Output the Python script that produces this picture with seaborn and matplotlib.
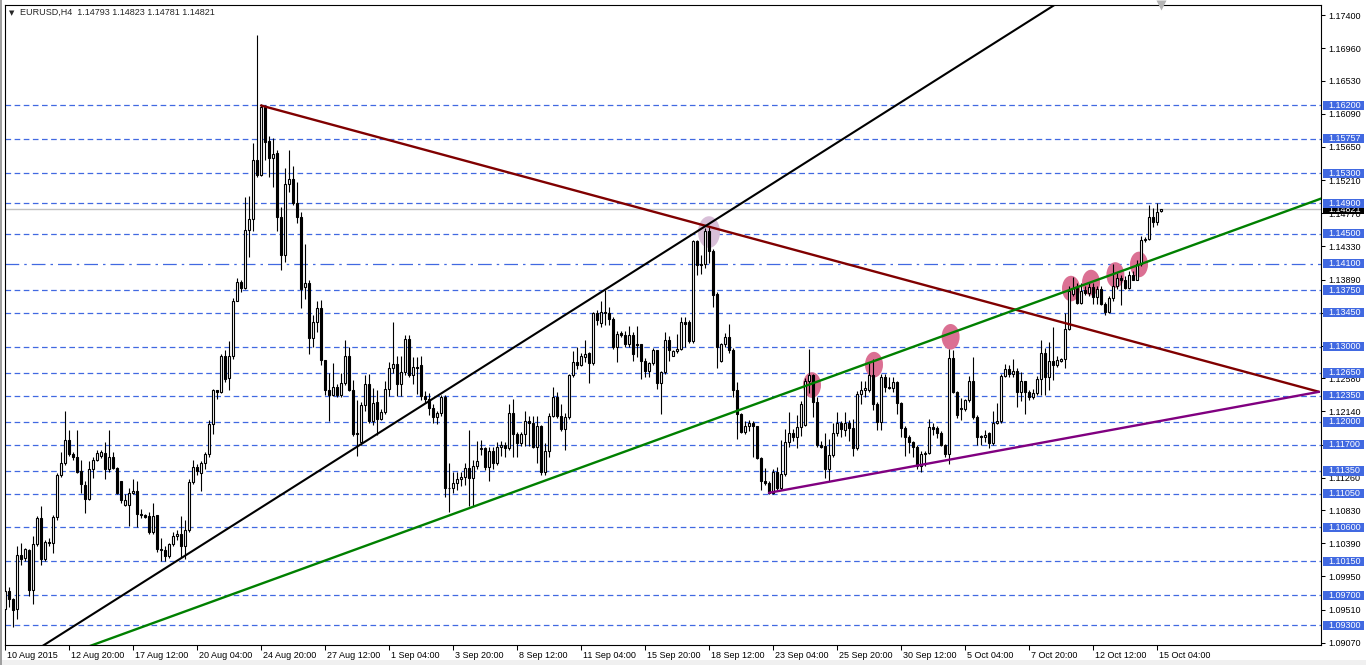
import numpy as np
import matplotlib
matplotlib.use("Agg")
import matplotlib.pyplot as plt
import matplotlib.transforms as mtransforms
from matplotlib.patches import Ellipse, Rectangle
import seaborn as sns

# ---- EURUSD H4 candles ----
opens = [
    1.0952, 1.0975, 1.0965, 1.0952, 1.1023, 1.1019, 1.1030, 1.0977, 1.1038, 1.1073,
    1.1018, 1.1041, 1.1039, 1.1074, 1.1129, 1.1145, 1.1176, 1.1158, 1.1154, 1.1135,
    1.1116, 1.1098, 1.1138, 1.1150, 1.1155, 1.1159, 1.1138, 1.1154, 1.1139, 1.1121,
    1.1090, 1.1090, 1.1106, 1.1109, 1.1078, 1.1076, 1.1075, 1.1054, 1.1076, 1.1031,
    1.1030, 1.1022, 1.1038, 1.1048, 1.1051, 1.1036, 1.1057, 1.1120, 1.1140, 1.1132,
    1.1146, 1.1157, 1.1197, 1.1242, 1.1240, 1.1287, 1.1258, 1.1288, 1.1361, 1.1386,
    1.1378, 1.1455, 1.1470, 1.1548, 1.1528, 1.1618, 1.1573, 1.1550, 1.1557, 1.1472,
    1.1421, 1.1516, 1.1522, 1.1491, 1.1472, 1.1379, 1.1385, 1.1312, 1.1333, 1.1351,
    1.1282, 1.1242, 1.1236, 1.1246, 1.1236, 1.1252, 1.1288, 1.1243, 1.1184, 1.1173,
    1.1223, 1.1251, 1.1201, 1.1227, 1.1204, 1.1213, 1.1244, 1.1271, 1.1277, 1.1250,
    1.1266, 1.1310, 1.1262, 1.1273, 1.1275, 1.1234, 1.1230, 1.1219, 1.1206, 1.1212,
    1.1233, 1.1113, 1.1112, 1.1119, 1.1124, 1.1127, 1.1139, 1.1126, 1.1142, 1.1164,
    1.1165, 1.1140, 1.1162, 1.1146, 1.1167, 1.1169, 1.1165, 1.1212, 1.1184, 1.1172,
    1.1184, 1.1201, 1.1199, 1.1167, 1.1194, 1.1133, 1.1161, 1.1208, 1.1233, 1.1208,
    1.1191, 1.1206, 1.1262, 1.1280, 1.1276, 1.1286, 1.1291, 1.1278, 1.1344, 1.1331,
    1.1346, 1.1344, 1.1337, 1.1299, 1.1318, 1.1316, 1.1303, 1.1316, 1.1303, 1.1303,
    1.1281, 1.1268, 1.1278, 1.1295, 1.1252, 1.1266, 1.1309, 1.1288, 1.1294, 1.1297,
    1.1333, 1.1332, 1.1307, 1.1440, 1.1409, 1.1409, 1.1453, 1.1427, 1.1370, 1.1281,
    1.1303, 1.1313, 1.1295, 1.1243, 1.1210, 1.1187, 1.1194, 1.1198, 1.1194, 1.1152,
    1.1122, 1.1119, 1.1106, 1.1134, 1.1112, 1.1131, 1.1174, 1.1186, 1.1180, 1.1193,
    1.1196, 1.1255, 1.1262, 1.1226, 1.1169, 1.1168, 1.1138, 1.1156, 1.1186, 1.1199,
    1.1189, 1.1198, 1.1192, 1.1166, 1.1237, 1.1243, 1.1242, 1.1262, 1.1224, 1.1200,
    1.1259, 1.1247, 1.1245, 1.1253, 1.1225, 1.1192, 1.1180, 1.1173, 1.1167, 1.1142,
    1.1157, 1.1159, 1.1193, 1.1192, 1.1185, 1.1170, 1.1157, 1.1285, 1.1240, 1.1219,
    1.1217, 1.1229, 1.1255, 1.1206, 1.1181, 1.1180, 1.1185, 1.1172, 1.1199, 1.1201,
    1.1261, 1.1270, 1.1264, 1.1267, 1.1240, 1.1255, 1.1240, 1.1233, 1.1238, 1.1257,
    1.1292, 1.1259, 1.1281, 1.1275, 1.1281, 1.1283, 1.1323, 1.1370, 1.1378, 1.1358,
    1.1375, 1.1371, 1.1379, 1.1366, 1.1377, 1.1357, 1.1346, 1.1365, 1.1380, 1.1391,
    1.1388, 1.1378, 1.1395, 1.1389, 1.1409, 1.1441, 1.1443, 1.1472, 1.1466, 1.14793,
]
highs = [
    1.0977, 1.0981, 1.0967, 1.1035, 1.1039, 1.1033, 1.1031, 1.1049, 1.1075, 1.1088,
    1.1044, 1.1046, 1.1076, 1.1132, 1.1160, 1.1214, 1.1189, 1.1160, 1.1189, 1.1149,
    1.1122, 1.1148, 1.1153, 1.1163, 1.1163, 1.1173, 1.1189, 1.1160, 1.1140, 1.1121,
    1.1104, 1.1113, 1.1124, 1.1122, 1.1084, 1.1078, 1.1080, 1.1093, 1.1077, 1.1046,
    1.1036, 1.1040, 1.1054, 1.1057, 1.1075, 1.1070, 1.1124, 1.1149, 1.1144, 1.1148,
    1.1160, 1.1202, 1.1244, 1.1243, 1.1290, 1.1295, 1.1308, 1.1365, 1.1391, 1.1388,
    1.1499, 1.1500, 1.1570, 1.1714, 1.1622, 1.1620, 1.1580, 1.1577, 1.1561, 1.1485,
    1.1537, 1.1561, 1.1540, 1.1518, 1.1479, 1.1436, 1.1389, 1.1342, 1.1360, 1.1362,
    1.1282, 1.1265, 1.1278, 1.1251, 1.1265, 1.1309, 1.1300, 1.1256, 1.1229, 1.1227,
    1.1262, 1.1263, 1.1245, 1.1243, 1.1217, 1.1254, 1.1280, 1.1332, 1.1287, 1.1287,
    1.1316, 1.1315, 1.1286, 1.1286, 1.1288, 1.1241, 1.1238, 1.1224, 1.1215, 1.1236,
    1.1236, 1.1145, 1.1134, 1.1134, 1.1134, 1.1145, 1.1189, 1.1149, 1.1175, 1.1176,
    1.1167, 1.1167, 1.1167, 1.1174, 1.1175, 1.1174, 1.1224, 1.1230, 1.1187, 1.1187,
    1.1214, 1.1208, 1.1208, 1.1208, 1.1196, 1.1172, 1.1212, 1.1247, 1.1240, 1.1224,
    1.1212, 1.1264, 1.1294, 1.1300, 1.1291, 1.1309, 1.1293, 1.1346, 1.1349, 1.1360,
    1.1375, 1.1353, 1.1339, 1.1321, 1.1321, 1.1321, 1.1328, 1.1320, 1.1328, 1.1304,
    1.1285, 1.1279, 1.1298, 1.1296, 1.1268, 1.1320, 1.1314, 1.1296, 1.1317, 1.1339,
    1.1339, 1.1335, 1.1442, 1.1442, 1.1422, 1.1457, 1.1460, 1.1429, 1.1372, 1.1305,
    1.1318, 1.1330, 1.1298, 1.1253, 1.1212, 1.1201, 1.1203, 1.1201, 1.1195, 1.1153,
    1.1139, 1.1121, 1.1138, 1.1140, 1.1176, 1.1190, 1.1213, 1.1190, 1.1209, 1.1228,
    1.1258, 1.1297, 1.1264, 1.1233, 1.1175, 1.1186, 1.1178, 1.1198, 1.1213, 1.1201,
    1.1213, 1.1202, 1.1204, 1.1241, 1.1255, 1.1255, 1.1278, 1.1283, 1.1226, 1.1264,
    1.1263, 1.1259, 1.1260, 1.1255, 1.1227, 1.1194, 1.1183, 1.1175, 1.1170, 1.1162,
    1.1162, 1.1204, 1.1198, 1.1195, 1.1188, 1.1171, 1.1297, 1.1295, 1.1241, 1.1232,
    1.1231, 1.1261, 1.1286, 1.1209, 1.1183, 1.1189, 1.1187, 1.1214, 1.1225, 1.1264,
    1.1277, 1.1276, 1.1283, 1.1271, 1.1266, 1.1255, 1.1242, 1.1244, 1.1261, 1.1309,
    1.1298, 1.1306, 1.1326, 1.1288, 1.1285, 1.1345, 1.1381, 1.1393, 1.1385, 1.1384,
    1.1381, 1.1385, 1.1385, 1.1380, 1.1380, 1.1359, 1.1367, 1.1409, 1.1398, 1.1395,
    1.1394, 1.1400, 1.1400, 1.1415, 1.1447, 1.1446, 1.1488, 1.1484, 1.1490, 1.14823,
]
lows = [
    1.0951, 1.0955, 1.0928, 1.0938, 1.1010, 1.1016, 1.0969, 1.0959, 1.1035, 1.1010,
    1.1015, 1.1036, 1.1026, 1.1070, 1.1127, 1.1143, 1.1155, 1.1150, 1.1132, 1.1106,
    1.1079, 1.1096, 1.1126, 1.1148, 1.1152, 1.1124, 1.1133, 1.1138, 1.1104, 1.1093,
    1.1089, 1.1062, 1.1104, 1.1060, 1.1072, 1.1072, 1.1051, 1.1051, 1.1028, 1.1015,
    1.1015, 1.1020, 1.1036, 1.1044, 1.1021, 1.1018, 1.1054, 1.1117, 1.1130, 1.1108,
    1.1137, 1.1153, 1.1184, 1.1231, 1.1238, 1.1253, 1.1243, 1.1284, 1.1360, 1.1373,
    1.1376, 1.1419, 1.1453, 1.1525, 1.1526, 1.1548, 1.1525, 1.1512, 1.1453, 1.1402,
    1.1412, 1.1505, 1.1488, 1.1464, 1.1351, 1.1363, 1.1290, 1.1300, 1.1320, 1.1276,
    1.1236, 1.1201, 1.1234, 1.1233, 1.1233, 1.1249, 1.1241, 1.1182, 1.1155, 1.1170,
    1.1214, 1.1199, 1.1196, 1.1183, 1.1202, 1.1211, 1.1235, 1.1265, 1.1235, 1.1235,
    1.1262, 1.1260, 1.1250, 1.1237, 1.1229, 1.1225, 1.1209, 1.1198, 1.1197, 1.1208,
    1.1101, 1.1081, 1.1106, 1.1110, 1.1115, 1.1116, 1.1089, 1.1089, 1.1138, 1.1156,
    1.1136, 1.1121, 1.1138, 1.1143, 1.1155, 1.1154, 1.1163, 1.1153, 1.1153, 1.1168,
    1.1168, 1.1168, 1.1165, 1.1146, 1.1130, 1.1130, 1.1154, 1.1207, 1.1205, 1.1188,
    1.1163, 1.1204, 1.1260, 1.1270, 1.1274, 1.1280, 1.1252, 1.1276, 1.1329, 1.1326,
    1.1329, 1.1329, 1.1297, 1.1279, 1.1313, 1.1299, 1.1299, 1.1281, 1.1286, 1.1257,
    1.1260, 1.1259, 1.1276, 1.1244, 1.1210, 1.1264, 1.1281, 1.1287, 1.1292, 1.1295,
    1.1300, 1.1305, 1.1305, 1.1395, 1.1397, 1.1404, 1.1411, 1.1353, 1.1271, 1.1280,
    1.1299, 1.1292, 1.1233, 1.1178, 1.1186, 1.1184, 1.1188, 1.1153, 1.1151, 1.1110,
    1.1116, 1.1105, 1.1105, 1.1110, 1.1110, 1.1128, 1.1167, 1.1175, 1.1165, 1.1181,
    1.1194, 1.1238, 1.1207, 1.1167, 1.1166, 1.1126, 1.1121, 1.1153, 1.1181, 1.1180,
    1.1181, 1.1175, 1.1155, 1.1163, 1.1224, 1.1233, 1.1240, 1.1216, 1.1189, 1.1189,
    1.1240, 1.1244, 1.1240, 1.1210, 1.1180, 1.1155, 1.1159, 1.1154, 1.1137, 1.1133,
    1.1141, 1.1157, 1.1183, 1.1179, 1.1168, 1.1154, 1.1144, 1.1238, 1.1205, 1.1203,
    1.1215, 1.1227, 1.1204, 1.1169, 1.1169, 1.1173, 1.1166, 1.1170, 1.1197, 1.1199,
    1.1259, 1.1259, 1.1259, 1.1220, 1.1228, 1.1211, 1.1229, 1.1231, 1.1236, 1.1236,
    1.1236, 1.1242, 1.1256, 1.1273, 1.1279, 1.1271, 1.1322, 1.1367, 1.1357, 1.1357,
    1.1368, 1.1367, 1.1356, 1.1356, 1.1355, 1.1342, 1.1345, 1.1360, 1.1376, 1.1355,
    1.1376, 1.1376, 1.1388, 1.1388, 1.1407, 1.1439, 1.1441, 1.1459, 1.1462, 1.14781,
]
closes = [
    1.0975, 1.0965, 1.0950, 1.1023, 1.1018, 1.1031, 1.0977, 1.1038, 1.1073, 1.1018,
    1.1041, 1.1039, 1.1074, 1.1129, 1.1145, 1.1176, 1.1158, 1.1154, 1.1134, 1.1117,
    1.1098, 1.1138, 1.1150, 1.1159, 1.1160, 1.1138, 1.1154, 1.1139, 1.1106, 1.1096,
    1.1096, 1.1106, 1.1109, 1.1078, 1.1076, 1.1074, 1.1054, 1.1075, 1.1031, 1.1030,
    1.1022, 1.1038, 1.1049, 1.1051, 1.1036, 1.1057, 1.1120, 1.1140, 1.1135, 1.1146,
    1.1157, 1.1197, 1.1242, 1.1240, 1.1287, 1.1257, 1.1288, 1.1361, 1.1386, 1.1378,
    1.1455, 1.1470, 1.1548, 1.1528, 1.1618, 1.1571, 1.1550, 1.1555, 1.1472, 1.1421,
    1.1516, 1.1522, 1.1491, 1.1472, 1.1377, 1.1385, 1.1312, 1.1333, 1.1351, 1.1282,
    1.1242, 1.1236, 1.1246, 1.1236, 1.1252, 1.1288, 1.1243, 1.1184, 1.1185, 1.1223,
    1.1251, 1.1201, 1.1225, 1.1204, 1.1213, 1.1244, 1.1271, 1.1277, 1.1250, 1.1266,
    1.1310, 1.1262, 1.1273, 1.1272, 1.1234, 1.1230, 1.1219, 1.1206, 1.1212, 1.1233,
    1.1113, 1.1112, 1.1119, 1.1124, 1.1127, 1.1139, 1.1126, 1.1142, 1.1148, 1.1165,
    1.1140, 1.1162, 1.1146, 1.1167, 1.1169, 1.1165, 1.1212, 1.1184, 1.1172, 1.1184,
    1.1201, 1.1198, 1.1167, 1.1194, 1.1133, 1.1161, 1.1208, 1.1233, 1.1208, 1.1191,
    1.1206, 1.1262, 1.1280, 1.1276, 1.1287, 1.1290, 1.1278, 1.1344, 1.1335, 1.1346,
    1.1344, 1.1336, 1.1299, 1.1317, 1.1315, 1.1303, 1.1316, 1.1290, 1.1302, 1.1281,
    1.1268, 1.1278, 1.1295, 1.1252, 1.1266, 1.1309, 1.1295, 1.1294, 1.1297, 1.1332,
    1.1330, 1.1307, 1.1440, 1.1408, 1.1408, 1.1453, 1.1427, 1.1369, 1.1299, 1.1303,
    1.1313, 1.1295, 1.1243, 1.1210, 1.1187, 1.1194, 1.1198, 1.1194, 1.1152, 1.1122,
    1.1119, 1.1106, 1.1134, 1.1112, 1.1131, 1.1174, 1.1186, 1.1180, 1.1193, 1.1224,
    1.1255, 1.1262, 1.1226, 1.1169, 1.1167, 1.1138, 1.1156, 1.1186, 1.1199, 1.1190,
    1.1198, 1.1192, 1.1166, 1.1237, 1.1243, 1.1245, 1.1262, 1.1224, 1.1200, 1.1259,
    1.1246, 1.1245, 1.1253, 1.1225, 1.1192, 1.1180, 1.1173, 1.1167, 1.1142, 1.1158,
    1.1159, 1.1193, 1.1191, 1.1185, 1.1170, 1.1157, 1.1285, 1.1240, 1.1209, 1.1217,
    1.1229, 1.1255, 1.1206, 1.1180, 1.1180, 1.1183, 1.1172, 1.1199, 1.1201, 1.1261,
    1.1270, 1.1264, 1.1267, 1.1240, 1.1255, 1.1240, 1.1233, 1.1238, 1.1257, 1.1292,
    1.1259, 1.1281, 1.1275, 1.1282, 1.1283, 1.1323, 1.1374, 1.1378, 1.1358, 1.1374,
    1.1371, 1.1379, 1.1366, 1.1377, 1.1357, 1.1346, 1.1365, 1.1380, 1.1391, 1.1388,
    1.1378, 1.1395, 1.1389, 1.1409, 1.1442, 1.1443, 1.1472, 1.1466, 1.1478, 1.14821,
]

time_labels = [
    "10 Aug 2015", "12 Aug 20:00", "17 Aug 12:00", "20 Aug 04:00", "24 Aug 20:00",
    "27 Aug 12:00", "1 Sep 04:00", "3 Sep 20:00", "8 Sep 12:00", "11 Sep 04:00",
    "15 Sep 20:00", "18 Sep 12:00", "23 Sep 04:00", "25 Sep 20:00", "30 Sep 12:00",
    "5 Oct 04:00", "7 Oct 20:00", "12 Oct 12:00", "15 Oct 04:00",
]
price_ticks = [
    1.17400, 1.16960, 1.16530, 1.16090, 1.15650, 1.15210, 1.14770, 1.14330, 1.13890, 1.13450,
    1.13010, 1.12580, 1.12140, 1.11700, 1.11260, 1.10830, 1.10390, 1.09950, 1.09510, 1.09070,
]
levels = [
    1.16200, 1.15757, 1.15300, 1.14900, 1.14500, 1.14100, 1.13750, 1.13450, 1.13000, 1.12650,
    1.12350, 1.12000, 1.11700, 1.11350, 1.11050, 1.10600, 1.10150, 1.09700, 1.09300,
]
pivot_level = 1.14100
last_price = 1.14821
header = "EURUSD,H4  1.14793 1.14823 1.14781 1.14821"

# trend lines: (bar index, price)
falling_x, falling_y = [64, 328.5], [1.1620, 1.1240]
base_x, base_y = [191, 328.5], [1.1106, 1.1240]
green_x, green_y = [10, 335], [1.0881, 1.1508]
black_x, black_y = [5, 270], [1.0888, 1.1779]

# highlighted touches
touch_x = [176, 201.75, 217.25, 236.4, 266.5, 271.5, 277.6, 283.5]
touch_y = [1.1452, 1.1249, 1.1276, 1.1313, 1.1377, 1.1385, 1.1395, 1.1409]

sns.set_style("white")
plt.rcParams["font.family"] = ["Liberation Sans", "DejaVu Sans"]

fig = plt.figure(figsize=(13.66, 6.65), dpi=100)
ax = fig.add_axes([5 / 1366, 20 / 665, 1316 / 1366, 640.5 / 665])

o = np.array(opens)
h = np.array(highs)
l = np.array(lows)
c = np.array(closes)
x = np.arange(len(c))
up = c >= o

BLUE = "#4169E1"

# level lines
for lv in levels:
    if lv == pivot_level:
        ax.axhline(lv, color=BLUE, lw=0.9, dashes=(11, 4, 2, 4), zorder=1)
    else:
        ax.axhline(lv, color=BLUE, lw=0.9, dashes=(4.5, 2.8), zorder=1)
ax.axhline(last_price, color="#C0C0C0", lw=1.0, zorder=1)

# highlight ellipses
for i, (tx, ty) in enumerate(zip(touch_x, touch_y)):
    if i == 0:
        e = Ellipse((tx, ty), 5.5, 0.0042, fc="#D8BFD8", ec="none", zorder=2)
    else:
        e = Ellipse((tx, ty), 4.5, 0.0034, fc="#DB7093", ec="none", zorder=2)
    ax.add_patch(e)

# candles
ax.vlines(x, l, h, color="black", lw=0.8, zorder=3)
ax.bar(x[up], (c - o)[up], bottom=o[up], width=0.5, color="white",
       edgecolor="black", linewidth=0.8, zorder=4)
ax.bar(x[~up], (o - c)[~up], bottom=c[~up], width=0.5, color="black",
       edgecolor="black", linewidth=0.8, zorder=4)

# trend lines
sns.lineplot(x=falling_x, y=falling_y, ax=ax, color="#800000", lw=1.7, zorder=5)
sns.lineplot(x=base_x, y=base_y, ax=ax, color="#800080", lw=1.7, zorder=5)
sns.lineplot(x=green_x, y=green_y, ax=ax, color="#008000", lw=1.7, zorder=5)
sns.lineplot(x=black_x, y=black_y, ax=ax, color="black", lw=1.5, zorder=5)

ax.set_xlim(0, 329)
ax.set_ylim(1.0904, 1.1754)
ax.set_xlabel("")
ax.set_ylabel("")

for sp in ax.spines.values():
    sp.set_color("black")
    sp.set_linewidth(0.8)

# right price scale
ax.yaxis.tick_right()
ax.set_yticks(price_ticks)
ax.set_yticklabels([f"{v:.5f}" for v in price_ticks])
ax.tick_params(axis="y", direction="out", length=3, width=0.75, pad=2.2,
               labelsize=6.5, colors="black", right=True, left=False)

# time scale
ax.set_xticks(np.arange(0, len(c), 16))
ax.set_xticklabels(time_labels)
ax.tick_params(axis="x", direction="out", length=3.5, width=0.75, pad=0.8,
               labelsize=6.5, colors="black", bottom=True)
shift = mtransforms.ScaledTranslation(2 / 100, 0, fig.dpi_scale_trans)
for lab in ax.get_xticklabels():
    lab.set_ha("left")
    lab.set_transform(lab.get_transform() + shift)

# price tags on the right scale (current price tag sits under the level tags)
blend = mtransforms.blended_transform_factory(ax.transAxes, ax.transData)
half = 4.6 / 7535
ax.add_patch(Rectangle((1.0015, last_price - half), 0.0312, 2 * half, transform=blend,
                       fc="black", ec="none", clip_on=False, zorder=6))
ax.text(1.0053, last_price, f"{last_price:.5f}", transform=blend, color="white",
        fontsize=6.5, ha="left", va="center", clip_on=False, zorder=6.5)
for lv in levels:
    ax.add_patch(Rectangle((1.0015, lv - half), 0.0312, 2 * half, transform=blend,
                           fc=BLUE, ec="none", clip_on=False, zorder=7))
    ax.text(1.0053, lv, f"{lv:.5f}", transform=blend, color="white", fontsize=6.5,
            ha="left", va="center", clip_on=False, zorder=8)

# chart shift marker
ax.plot([len(c) - 1], [1.1754], marker="v", ms=7, color="#B4B4B4", mec="none",
        clip_on=False, zorder=6)

# header
fig.text(9 / 1366, 1 - 12.7 / 665, "\u25bc", fontsize=5, va="center", ha="left",
         family=["DejaVu Sans"])
fig.text(20 / 1366, 1 - 12.7 / 665, header, fontsize=6.5, va="center", ha="left")

# window frame bits
fig.patches.append(Rectangle((0, 0), 1, 5 / 665, transform=fig.transFigure,
                             fc="#F0F0F0", ec="none", zorder=0))
fig.patches.append(Rectangle((0, 0), 2 / 1366, 1, transform=fig.transFigure,
                             fc="#A0A0A0", ec="none", zorder=0))

fig.savefig("out.png", dpi=100)
